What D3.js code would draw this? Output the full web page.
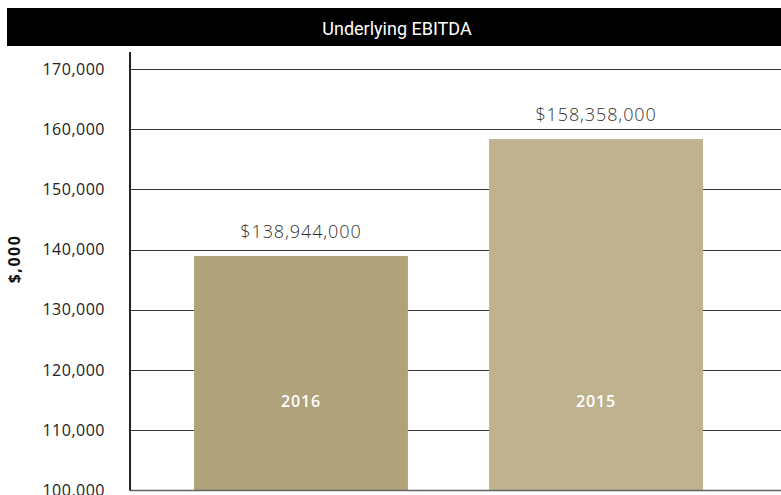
<!DOCTYPE html>
<html>
<head>
<meta charset="utf-8">
<script src="https://cdn.jsdelivr.net/npm/d3@7"></script>
<style>
  html, body { margin: 0; padding: 0; background: #fff; }
  svg { display: block; }
</style>
</head>
<body>
<svg id="chart" width="781" height="495"></svg>
<script>
const title = "Underlying EBITDA";
const categories = ["2016", "2015"];
const values = [138944, 158358];
const valueLabels = ["$138,944,000", "$158,358,000"];
const barColors = ["#b0a27b", "#beb28f"];
const yTicks = [100000, 110000, 120000, 130000, 140000, 150000, 160000, 170000];
const yAxisTitle = "$,000";

(function () {
const svg = d3.select("#chart");
const W = 781, H = 495;
const mLeft = 130, mRight = 767, mTop = 52, mBottom = 490.5;

const y = d3.scaleLinear().domain([100000, 170000]).range([mBottom, 69]);
const x = d3.scaleBand().domain(categories).range([mLeft, mRight])
  .paddingInner(0.275).paddingOuter(0.217);

// title bar
svg.append("rect").attr("x", 7).attr("y", 8).attr("width", W - 7).attr("height", 38).attr("fill", "#000");
svg.append("text").attr("x", 397).attr("y", 35)
  .attr("text-anchor", "middle")
  .attr("fill", "#fff").attr("font-family", "Roboto").attr("font-size", 18).attr("font-weight", 400)
  .text(title);

// gridlines
svg.append("g").selectAll("line").data(yTicks.filter(t => t > 100000)).join("line")
  .attr("x1", mLeft).attr("x2", W)
  .attr("y1", d => Math.round(y(d)) + 0.5).attr("y2", d => Math.round(y(d)) + 0.5)
  .attr("stroke", "#333").attr("stroke-width", 1);

// bars
svg.append("g").selectAll("rect").data(categories).join("rect")
  .attr("x", d => x(d)).attr("width", x.bandwidth())
  .attr("y", (d, i) => y(values[i])).attr("height", (d, i) => mBottom - y(values[i]))
  .attr("fill", (d, i) => barColors[i]);

// bottom baseline
svg.append("line").attr("x1", mLeft).attr("x2", W).attr("y1", mBottom).attr("y2", mBottom)
  .attr("stroke", "#666").attr("stroke-width", 1.5);

// y axis
const yAxis = d3.axisLeft(y).tickValues(yTicks).tickSize(0).tickPadding(25)
  .tickFormat(d3.format(","));
const ga = svg.append("g").attr("transform", `translate(${mLeft},0)`).call(yAxis);
ga.select(".domain").remove();
ga.selectAll("text").attr("font-family", "Open Sans").attr("font-size", 16)
  .attr("letter-spacing", 0.5).attr("fill", "#222");
svg.append("line").attr("x1", mLeft).attr("x2", mLeft).attr("y1", mTop).attr("y2", mBottom)
  .attr("stroke", "#222").attr("stroke-width", 2);

// y axis title
svg.append("text").attr("transform", "translate(20,259) rotate(-90)")
  .attr("text-anchor", "middle").attr("font-family", "Open Sans").attr("font-weight", 700)
  .attr("font-size", 16).attr("letter-spacing", 1.5).attr("fill", "#111").text(yAxisTitle);

// value labels
svg.append("g").selectAll("text").data(categories).join("text")
  .attr("x", d => x(d) + x.bandwidth() / 2)
  .attr("y", (d, i) => y(values[i]) - 18)
  .attr("text-anchor", "middle").attr("font-family", "Open Sans").attr("font-weight", 300)
  .attr("font-size", 18).attr("letter-spacing", 0.9).attr("fill", "#333")
  .text((d, i) => valueLabels[i]);

// category labels inside bars
svg.append("g").selectAll("text").data(categories).join("text")
  .attr("x", d => x(d) + x.bandwidth() / 2).attr("y", 407)
  .attr("text-anchor", "middle").attr("font-family", "Open Sans").attr("font-weight", 600)
  .attr("font-size", 16).attr("letter-spacing", 0.8).attr("fill", "#fff")
  .text(d => d);
})();
</script>
</body>
</html>
